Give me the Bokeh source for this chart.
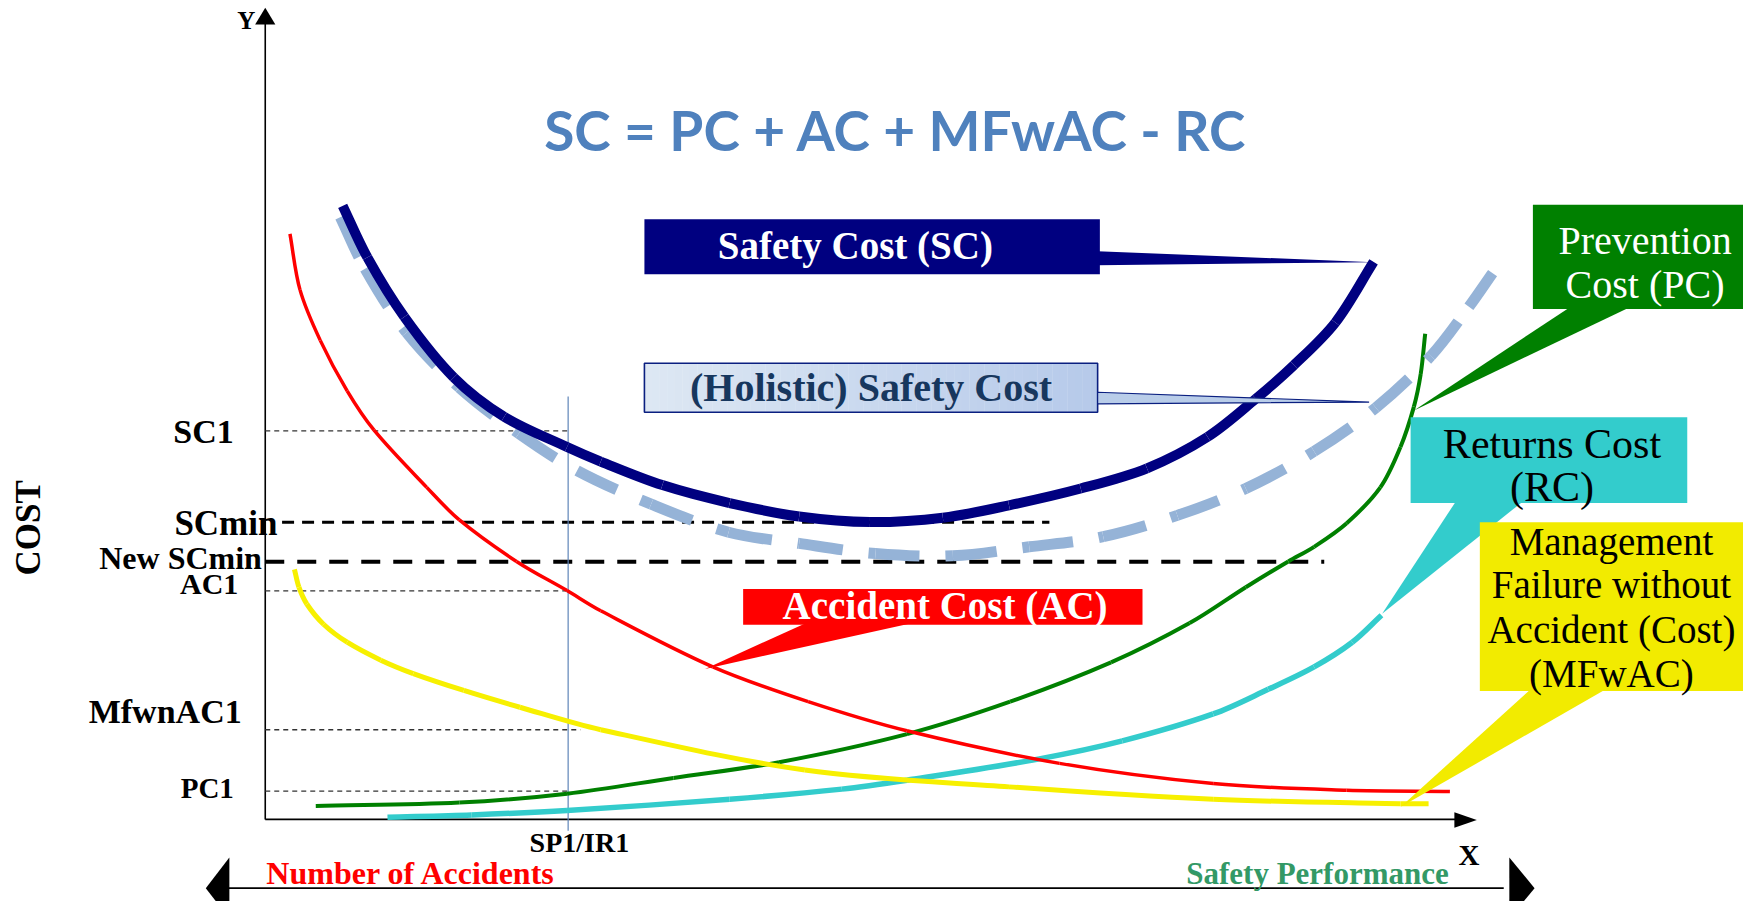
import math
from bokeh.plotting import figure
from bokeh.models import Range1d, Label
from bokeh.embed import file_html
from bokeh.resources import INLINE

# ---------------- data  (x: safety performance 0-100, y: cost 0-100) ----------------
sc_x = [6.39, 8.43, 11.48, 15.56, 19.72, 24.91, 27.69, 32.78, 38.33, 44.07, 49.91,
        55.93, 61.39, 67.31, 72.78, 77.78, 81.76, 84.91, 88.33, 91.48]
sc_y = [75.97, 69.58, 62.22, 54.72, 49.86, 46.11, 44.31, 41.39, 39.17, 37.50, 36.81,
        37.36, 38.89, 40.97, 43.47, 47.36, 52.08, 56.25, 61.53, 69.03]

hsc_x = [6.20, 8.24, 11.67, 16.02, 20.93, 25.74, 31.85, 38.24, 44.07, 50.37, 56.76,
         63.06, 69.17, 75.28, 80.93, 86.57, 91.67, 96.20, 99.35, 101.30]
hsc_y = [74.58, 68.19, 60.28, 53.47, 47.78, 43.19, 39.03, 35.56, 34.17, 32.92, 32.64,
         33.75, 35.00, 37.64, 40.97, 45.56, 50.97, 57.36, 63.47, 67.64]

ac_x = [2.04, 2.87, 4.54, 6.76, 8.98, 13.33, 16.02, 20.74, 24.91, 27.69, 36.94,
        44.81, 52.96, 65.56, 78.24, 89.26, 97.78]
ac_y = [72.50, 65.56, 59.31, 53.06, 48.19, 41.11, 37.08, 31.94, 28.33, 25.83, 18.89,
        14.58, 10.97, 6.94, 4.44, 3.61, 3.47]

mf_x = [2.41, 2.78, 3.43, 4.81, 6.76, 9.54, 12.22, 16.39, 21.02, 27.69, 44.54, 61.39,
        78.24, 93.70, 96.02]
mf_y = [30.97, 28.75, 26.67, 24.17, 21.94, 19.72, 18.06, 15.97, 13.89, 11.11, 6.11, 4.03,
        2.50, 1.94, 1.94]

pc_x = [4.17, 16.02, 24.91, 33.70, 42.41, 52.96, 61.48, 69.81, 76.30, 80.93, 84.44,
        86.57, 89.26, 92.04, 93.70, 94.81, 95.37, 95.74]
pc_y = [1.67, 2.08, 3.19, 5.14, 7.08, 10.56, 14.58, 19.44, 24.31, 28.75, 31.94,
        33.75, 36.67, 41.11, 46.11, 51.11, 55.14, 60.14]

rc_x = [10.09, 17.04, 24.91, 38.33, 47.59, 52.96, 63.89, 70.74, 78.24, 82.78, 86.57, 89.72, 92.13]
rc_y = [0.28, 0.56, 1.11, 2.50, 3.75, 4.86, 7.50, 9.72, 13.06, 16.11, 18.89, 21.94, 25.28]

level_names = ["SC1", "SCmin", "New SCmin", "AC1", "MfwnAC1", "PC1"]
level_values = [48.1, 36.8, 31.9, 28.3, 11.1, 3.5]
sp1 = 25.0
sp1_label = "SP1/IR1"
title_text = "SC = PC + AC + MFwAC - RC"

# ---------------- layout helpers (reference-pixel -> data units) ----------------
K = 1759 / 1568
OX, OY, UX, UY = 236.0, 730.0, 10.8, 7.2


def dx(rx):
    return (rx - OX) / UX


def dy(ry):
    return (OY - ry) / UY


W, H = 1743, 901
p = figure(width=W, height=H, output_backend="svg", toolbar_location=None,
           x_range=Range1d(dx(0), dx(W / K)), y_range=Range1d(dy(H / K), dy(0)),
           x_axis_location=None, y_axis_location=None, min_border=0,
           outline_line_color=None, background_fill_color="white", border_fill_color="white")
p.grid.visible = False

SERIF = "Liberation Serif"


def smooth(xs, ys, **kw):
    """Smooth curve through the read points: chord-length Catmull-Rom drawn as Beziers."""
    n = len(xs)
    d = [math.hypot((xs[i + 1] - xs[i]) * UX, (ys[i + 1] - ys[i]) * UY) for i in range(n - 1)]
    mx, my = [], []
    for i in range(n):
        if i == 0:
            mx.append((xs[1] - xs[0]) / d[0]); my.append((ys[1] - ys[0]) / d[0])
        elif i == n - 1:
            mx.append((xs[-1] - xs[-2]) / d[-1]); my.append((ys[-1] - ys[-2]) / d[-1])
        else:
            s = d[i - 1] + d[i]
            mx.append((xs[i + 1] - xs[i - 1]) / s); my.append((ys[i + 1] - ys[i - 1]) / s)
    cols = {k: [] for k in ("x0", "y0", "x1", "y1", "cx0", "cy0", "cx1", "cy1")}
    for i in range(n - 1):
        h = d[i] / 3.0
        cols["x0"].append(xs[i]); cols["y0"].append(ys[i])
        cols["x1"].append(xs[i + 1]); cols["y1"].append(ys[i + 1])
        cols["cx0"].append(xs[i] + mx[i] * h); cols["cy0"].append(ys[i] + my[i] * h)
        cols["cx1"].append(xs[i + 1] - mx[i + 1] * h); cols["cy1"].append(ys[i + 1] - my[i + 1] * h)
    p.bezier(**cols, **kw)


def label(text, rx, ry, size, color="black", bold=True, align="center", font=SERIF, angle=0.0):
    p.add_layout(Label(x=dx(rx), y=dy(ry), text=text, text_font=font,
                       text_font_size=f"{size}px",
                       text_font_style="bold" if bold else "normal",
                       text_color=color, text_align=align, text_baseline="middle",
                       angle=angle))


def tri(pts, color, line_color=None, lw=1.0):
    p.patch([dx(a) for a, b in pts], [dy(b) for a, b in pts], fill_color=color,
            line_color=line_color, line_width=lw)


def box(l, r, t, b, color):
    p.quad(left=dx(l), right=dx(r), top=dy(t), bottom=dy(b), fill_color=color, line_color=None)


# ---------------- axes ----------------
p.line([0, 0], [0, dy(20)], line_color="black", line_width=1.6)
tri([(236, 6.5), (227, 21.5), (245, 21.5)], "black")
p.line([0, dx(1300)], [0, 0], line_color="black", line_width=1.6)
tri([(1316, 730.5), (1296, 723.5), (1296, 737.5)], "black")
label("Y", 219, 18, 25)
label("X", 1309, 762, 29)
label("COST", 25, 470, 35, angle=1.5708)

# bottom double arrow
p.line([dx(203), dx(1340)], [dy(791.3), dy(791.3)], line_color="black", line_width=1.8)
tri([(183, 791.3), (204, 764), (204, 818.5)], "black")
tri([(1367.5, 791.3), (1345, 764), (1345, 818.5)], "black")
label("Number of Accidents", 237, 778, 32, color="#FF0000", align="left")
label("Safety Performance", 1291, 778, 31, color="#339966", align="right")

# ---------------- reference levels ----------------
thin = dict(line_color="#333333", line_width=1.3, line_dash="5 4")
for name, v in zip(level_names, level_values):
    if name in ("SC1", "AC1", "PC1"):
        p.line([0, sp1], [v, v], **thin)
    elif name == "MfwnAC1":
        p.line([0, dx(517)], [v, v], **thin)
    elif name == "SCmin":
        p.line([dx(251), dx(935)], [v, v], line_color="black", line_width=3, line_dash="12 8")
    else:
        p.line([0, dx(1180)], [v, v], line_color="black", line_width=4, line_dash="19 13")

p.line([sp1, sp1], [dy(353), dy(740)], line_color="#5F85B8", line_width=1.2)
label(sp1_label, 516, 751, 28)

label("SC1", 208, 384, 34, align="right")
label("SCmin", 155, 466, 35, align="left")
label("New SCmin", 233, 497, 32, align="right")
label("AC1", 212, 520, 30, align="right")
label("MfwnAC1", 215, 634, 34, align="right")
label("PC1", 208, 702, 29, align="right")

# ---------------- curves ----------------
smooth(rc_x, rc_y, line_color="#33CCCC", line_width=5.5)
smooth(pc_x, pc_y, line_color="#008000", line_width=4)
smooth(mf_x, mf_y, line_color="#F7F000", line_width=5)
smooth(ac_x, ac_y, line_color="#FF0000", line_width=3.5)
smooth(hsc_x, hsc_y, line_color="#95B3D7", line_width=11, line_dash="44 26")
smooth(sc_x, sc_y, line_color="#000080", line_width=10)

# ---------------- title ----------------
label(title_text, 798, 115, 55, color="#4F81BD", font="Lato")

# ---------------- callouts ----------------
# Safety Cost (SC)
box(574, 980, 195, 244, "#000080")
tri([(978, 223.5), (1224, 233.3), (978, 236)], "#000080")
label("Safety Cost (SC)", 762, 218, 39, color="white")

# (Holistic) Safety Cost - gradient box
n = 60
l, r = 574.0, 978.0
c0, c1 = (221, 231, 243), (182, 202, 234)
for i in range(n):
    t = i / (n - 1)
    col = "#%02x%02x%02x" % tuple(int(round(c0[k] + (c1[k] - c0[k]) * t)) for k in range(3))
    box(l + (r - l) * i / n, l + (r - l) * (i + 1) / n + 0.3, 323.3, 367, col)
p.quad(left=dx(l), right=dx(r), top=dy(323.3), bottom=dy(367), fill_color=None,
       line_color="#0A1F80", line_width=1.6)
tri([(978, 349.2), (1220, 358), (978, 359.5)], "#B9CDE9", line_color="#0A1F80", lw=1.2)
label("(Holistic) Safety Cost", 776, 345, 40, color="#17375E")

# Prevention Cost (PC)
box(1366, 1575, 182, 275, "#008000")
tri([(1398, 274), (1260, 365.5), (1451, 274)], "#008000")
label("Prevention", 1466, 214, 40, color="white", bold=False)
label("Cost (PC)", 1466, 253, 40, color="white", bold=False)

# Returns Cost (RC)
box(1257, 1503.6, 371.4, 448, "#33CCCC")
tri([(1297, 447), (1231.6, 546.7), (1356.5, 447)], "#33CCCC")
label("Returns Cost", 1383, 395, 42, bold=False)
label("(RC)", 1383, 434, 42, bold=False)

# Management Failure without Accident (MFwAC)
box(1318.7, 1575, 465, 615.5, "#F2EB00")
tri([(1364, 614), (1248, 719), (1431, 614)], "#F2EB00")
for txt, yy in zip(["Management", "Failure without", "Accident (Cost)", "(MFwAC)"],
                   [482.6, 520.5, 560.8, 600]):
    label(txt, 1436, yy, 39, bold=False)

# Accident Cost (AC)
box(662, 1018, 524.5, 556.5, "#FF0000")
tri([(716.7, 555.5), (628, 595.8), (810, 555.5)], "#FF0000")
label("Accident Cost (AC)", 842, 539.5, 39, color="white")

open("out.html", "w").write(file_html(p, INLINE))
